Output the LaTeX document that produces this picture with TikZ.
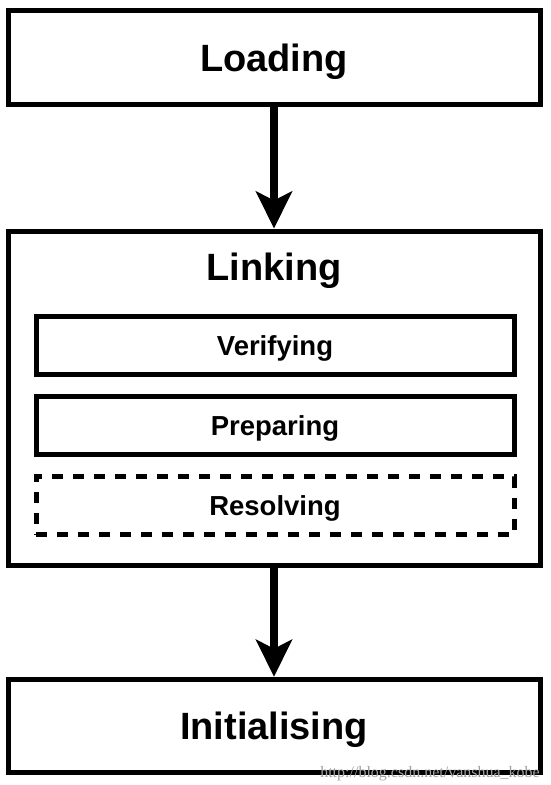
\documentclass[tikz,border=0pt]{standalone}
\usepackage{fontspec}
\setmainfont{Liberation Sans}
\newfontfamily\wmfont{Liberation Serif}
\usetikzlibrary{arrows.meta}
\newcommand{\bigtxt}{\fontsize{38pt}{44pt}\selectfont\bfseries}
\newcommand{\smalltxt}{\fontsize{27.5pt}{32pt}\selectfont\bfseries}
\definecolor{wmgray}{RGB}{160,160,160}
\tikzset{
  bigtext/.style={font=\bigtxt, text height=27.2pt, text depth=0pt, inner sep=0pt},
  phase/.style={draw, line width=5pt, minimum width=532pt, bigtext},
  subbox/.style={draw, line width=5pt, minimum width=478pt, minimum height=58pt, inner sep=0pt,
                 font=\smalltxt, text height=19.7pt, text depth=0pt},
  dashedbox/.style={subbox, dash pattern=on 11pt off 10pt},
  flow/.style={line width=8pt, -{Stealth[length=37pt,width=36pt,inset=9pt]}},
}
\begin{document}
\begin{tikzpicture}[x=1pt,y=1pt]
  \useasboundingbox[fill=white] (0,0) rectangle (550,-785);
  \node[phase, minimum height=94pt] (loading) at (274,-57.5) {Loading};
  \node[draw, line width=5pt, minimum width=532pt, minimum height=334pt, inner sep=0pt] (linking) at (274,-398) {};
  \node[bigtext] (linkingtitle) at (274,-267) {Linking};
  \node[subbox] (verifying) at (275,-345.5) {Verifying};
  \node[subbox] (preparing) at (275,-425.5) {Preparing};
  \node[dashedbox] (resolving) at (275,-505.5) {Resolving};
  \node[phase, minimum height=93.5pt] (init) at (274,-726) {Initialising};
  \draw[flow] (loading.south) -- (linking.north);
  \draw[flow] (linking.south) -- (init.north);
  \node[anchor=base east, inner sep=0pt, text=wmgray, font=\wmfont\fontsize{16pt}{18pt}\selectfont] (wm) at (540,-777) {http://blog.csdn.net/vanshua\_kobe};
\end{tikzpicture}
\end{document}
